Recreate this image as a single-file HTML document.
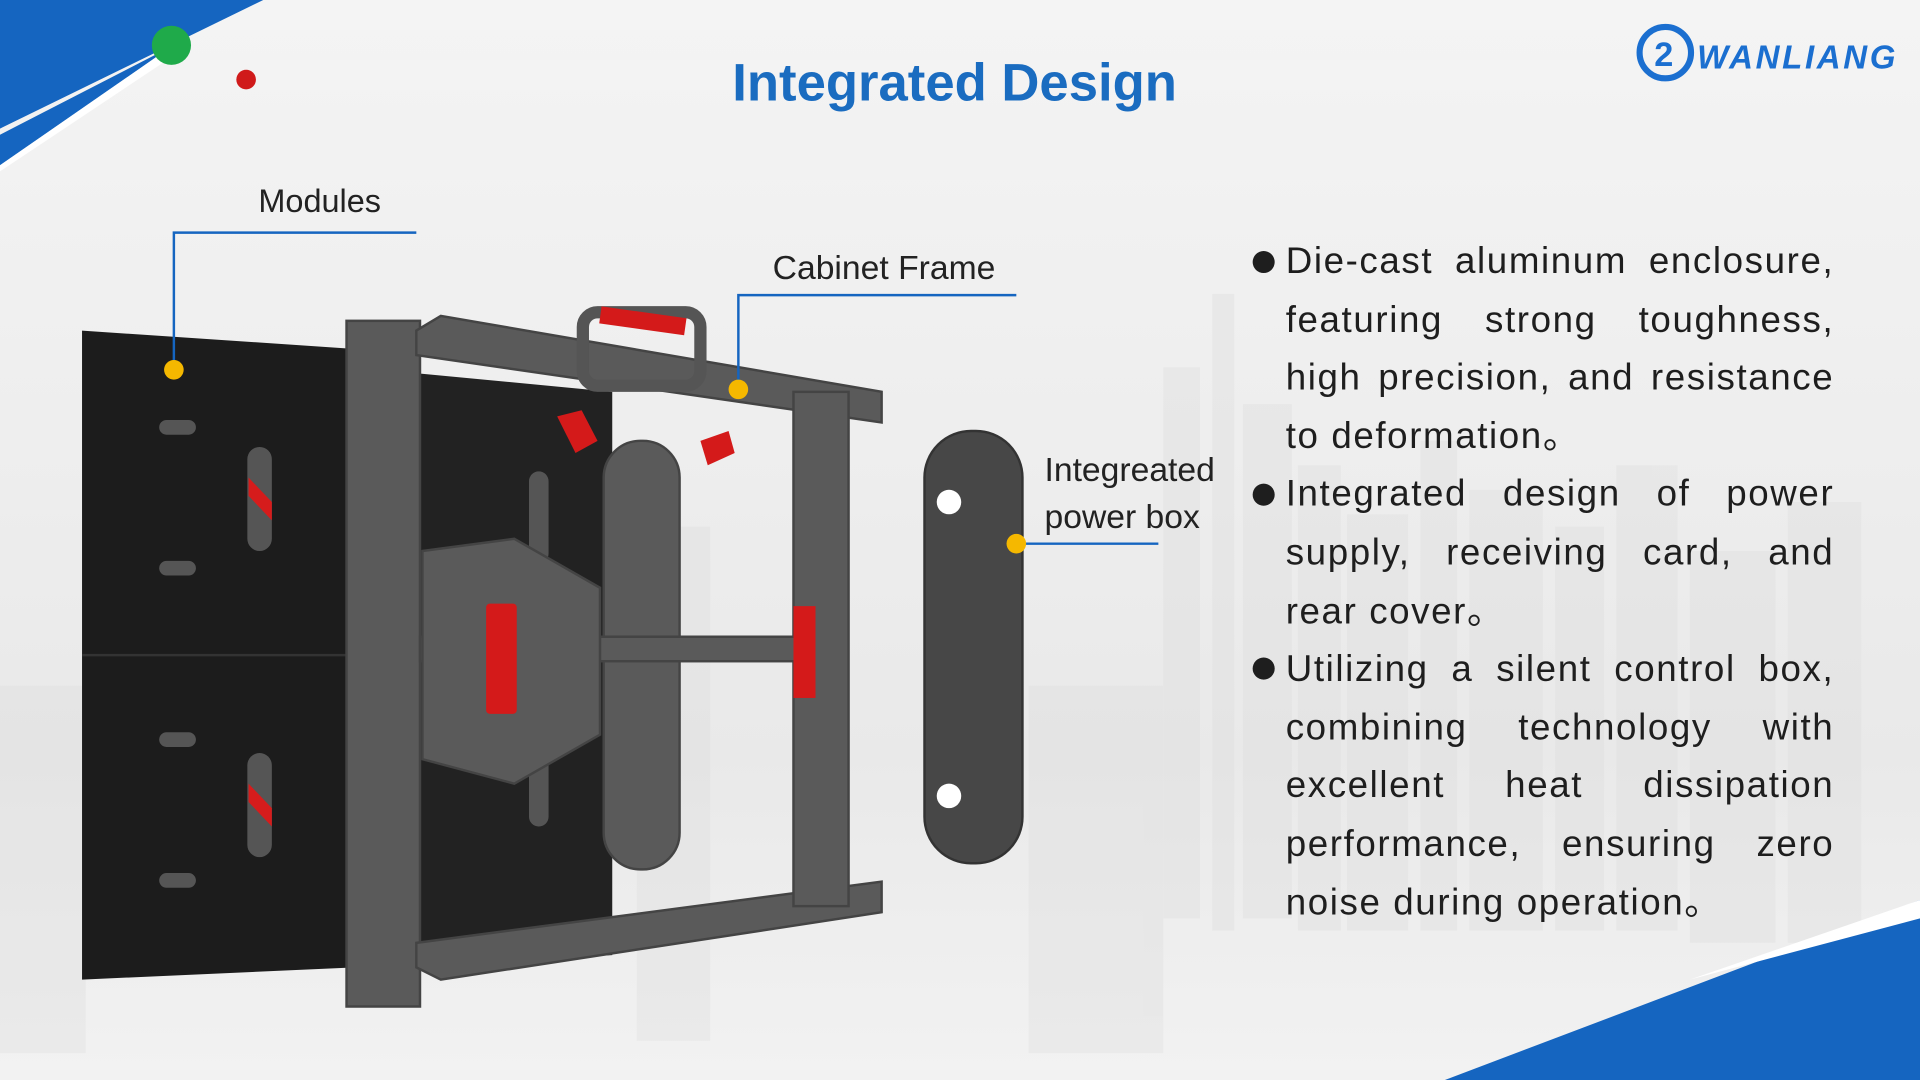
<!DOCTYPE html>
<html><head><meta charset="utf-8"><style>
html,body{margin:0;padding:0;width:1920px;height:1080px;overflow:hidden;background:#f2f2f2}
#s{position:absolute;left:0;top:0;width:1568px;height:882px;transform:scale(1.22449);transform-origin:0 0;font-family:"Liberation Sans",sans-serif;background:linear-gradient(180deg,#f4f4f4 0%,#eeeeee 40%,#e9e9e9 70%,#f2f2f2 100%)}
.t{position:absolute;white-space:nowrap;color:#222}
.lbl{font-size:26.5px;color:#222}
.bl{position:absolute;left:1050px;top:190px;width:448px;font-size:30px;line-height:47.6px;color:#1e1e1e;letter-spacing:1.3px}
.bl div{text-align:justify;text-align-last:justify;white-space:nowrap;height:47.6px}
.bl div.l{text-align-last:left}
.dot{position:absolute;left:1023px;width:18px;height:18px;border-radius:50%;background:#1e1e1e}
</style></head><body><div id="s">
<svg width="1568" height="882" style="position:absolute;left:0;top:0">
<g fill="#dcdcdc" opacity="0.35">
<rect x="950" y="300" width="30" height="450"/><rect x="990" y="240" width="18" height="520"/><rect x="1015" y="330" width="40" height="420"/>
<rect x="1060" y="380" width="35" height="380"/><rect x="1100" y="420" width="50" height="340"/><rect x="1160" y="360" width="30" height="400"/>
<rect x="1200" y="400" width="60" height="360"/><rect x="1270" y="430" width="40" height="330"/><rect x="1320" y="380" width="50" height="380"/>
<rect x="1380" y="450" width="70" height="320"/><rect x="1460" y="410" width="60" height="360"/>
<rect x="0" y="560" width="70" height="300"/><rect x="520" y="430" width="60" height="420"/><rect x="840" y="560" width="110" height="300"/>
</g>
<polygon points="0,0 215,0 0,105" fill="#1565c0"/>
<polygon points="0,110 140,38 0,135" fill="#1565c0"/>
<polygon points="0,135 140,38 150,40 0,140" fill="#fff"/>
<circle cx="140" cy="37" r="16" fill="#1faa4a"/>
<circle cx="201" cy="65" r="8" fill="#d01a1a"/>
<polygon points="1180,882 1568,735 1568,882" fill="#1565c0"/>
<polygon points="1380,800 1568,735 1568,750" fill="#fff"/>
<circle cx="1360" cy="43" r="21" fill="none" stroke="#1b6fd0" stroke-width="5"/>
<text x="1351" y="54" font-family="Liberation Sans" font-weight="bold" font-size="28" fill="#1b6fd0">2</text>
<text x="1386" y="56" font-family="Liberation Sans" font-weight="bold" font-style="italic" font-size="27" fill="#1b6fd0" textLength="162">WANLIANG</text>
<polygon points="67,270 290,285 290,790 67,800" fill="#1c1c1c"/>
<polygon points="290,300 500,320 500,780 290,790" fill="#222"/>
<line x1="67" y1="535" x2="500" y2="535" stroke="#333" stroke-width="2"/>
<g fill="#555"><rect x="130" y="343" width="30" height="12" rx="6"/><rect x="130" y="458" width="30" height="12" rx="6"/><rect x="130" y="598" width="30" height="12" rx="6"/><rect x="130" y="713" width="30" height="12" rx="6"/>
<rect x="202" y="365" width="20" height="85" rx="10"/><rect x="202" y="615" width="20" height="85" rx="10"/><rect x="432" y="385" width="16" height="75" rx="8"/><rect x="432" y="600" width="16" height="75" rx="8"/></g>
<g fill="#d61c1c"><polygon points="203,390 222,410 222,425 203,405"/><polygon points="203,640 222,660 222,675 203,655"/></g>
<g fill="#5a5a5a" stroke="#444" stroke-width="2">
<rect x="283" y="262" width="60" height="560"/>
<polygon points="340,270 360,258 720,320 720,345 340,290"/>
<polygon points="340,770 720,720 720,745 360,800 340,790"/>
<rect x="648" y="320" width="45" height="420"/>
<rect x="493" y="360" width="62" height="350" rx="30"/>
<rect x="343" y="520" width="310" height="20"/>
<polygon points="345,450 420,440 490,480 490,600 420,640 345,620"/>
</g>
<rect x="476" y="255" width="96" height="60" rx="12" fill="none" stroke="#555" stroke-width="10"/>
<rect x="490" y="255" width="70" height="14" fill="#d41a1a" transform="rotate(8 525 262)"/>
<g fill="#d41a1a"><rect x="397" y="493" width="25" height="90" rx="3"/><rect x="648" y="495" width="18" height="75"/><polygon points="455,340 475,335 488,360 470,370"/><polygon points="572,360 595,352 600,370 578,380"/></g>
<rect x="755" y="352" width="80" height="353" rx="38" fill="#474747" stroke="#333" stroke-width="2"/>
<circle cx="775" cy="410" r="10" fill="#fff"/><circle cx="775" cy="650" r="10" fill="#fff"/>
<g stroke="#1565c0" stroke-width="2" fill="none">
<polyline points="340,190 142,190 142,302"/>
<polyline points="830,241 603,241 603,318"/>
<line x1="830" y1="444" x2="946" y2="444"/>
</g>
<g fill="#f5b800"><circle cx="142" cy="302" r="8"/><circle cx="603" cy="318" r="8"/><circle cx="830" cy="444" r="8"/></g>
</svg>
<div class="t" style="left:598px;top:44px;font-size:43px;font-weight:bold;color:#1a6cc0">Integrated Design</div>
<div class="t lbl" style="left:211px;top:149px">Modules</div>
<div class="t lbl" style="left:631px;top:203px;font-size:27.5px">Cabinet Frame</div>
<div class="t lbl" style="left:853px;top:365px;line-height:38px;font-size:27.5px">Integreated<br>power box</div>
<div class="dot" style="top:205px"></div>
<div class="dot" style="top:395px"></div>
<div class="dot" style="top:537px"></div>
<div class="bl">
<div>Die-cast aluminum enclosure,</div>
<div>featuring strong toughness,</div>
<div>high precision, and resistance</div>
<div class="l">to deformation。</div>
<div>Integrated design of power</div>
<div>supply, receiving card, and</div>
<div class="l">rear cover。</div>
<div>Utilizing a silent control box,</div>
<div>combining technology with</div>
<div>excellent heat dissipation</div>
<div>performance, ensuring zero</div>
<div class="l">noise during operation。</div>
</div>
</div></body></html>
